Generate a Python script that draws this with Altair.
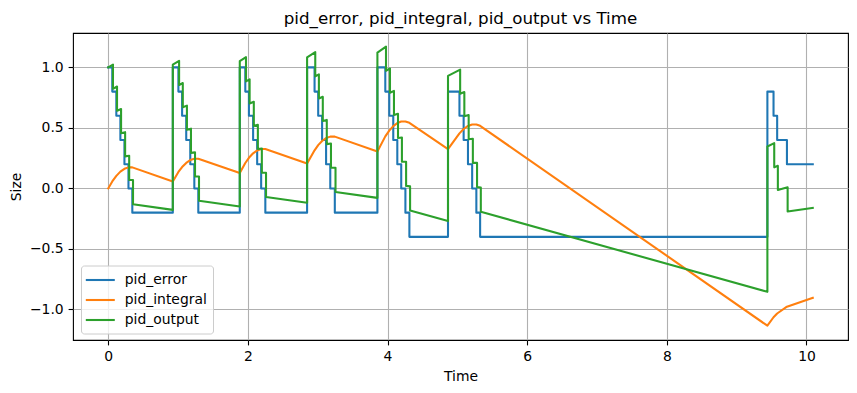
import altair as alt
import pandas as pd

series_names = ["pid_error", "pid_integral", "pid_output"]
series_colors = ["#1f77b4", "#ff7f0e", "#2ca02c"]
x_ticks = [0, 2, 4, 6, 8, 10]
y_ticks = [-1.0, -0.5, 0.0, 0.5, 1.0]

# pid_error vertices (time, value)
error_t = [0, 0.058, 0.058, 0.116, 0.116, 0.174, 0.174, 0.232, 0.232, 0.29, 0.29, 0.345, 0.345, 0.925,
           0.925, 1.005, 1.005, 1.058, 1.058, 1.117, 1.117, 1.175, 1.175, 1.233, 1.233, 1.29, 1.29, 1.884,
           1.884, 1.963, 1.963, 2.015, 2.015, 2.075, 2.075, 2.133, 2.133, 2.19, 2.19, 2.25, 2.25, 2.848,
           2.848, 2.955, 2.955, 3.007, 3.007, 3.063, 3.063, 3.12, 3.12, 3.18, 3.18, 3.245, 3.245, 3.855,
           3.855, 3.968, 3.968, 4.025, 4.025, 4.082, 4.082, 4.14, 4.14, 4.196, 4.196, 4.256, 4.256, 4.313, 4.313, 4.866,
           4.866, 5.03, 5.03, 5.09, 5.09, 5.152, 5.152, 5.212, 5.212, 5.272, 5.272, 5.326, 5.326, 9.44,
           9.44, 9.528, 9.528, 9.58, 9.58, 9.72, 9.72, 10.09]
error_v = [1.0, 1.0, 0.8, 0.8, 0.6, 0.6, 0.4, 0.4, 0.2, 0.2, 0.0, 0.0, -0.2, -0.2,
           1.0, 1.0, 0.8, 0.8, 0.6, 0.6, 0.4, 0.4, 0.2, 0.2, 0.0, 0.0, -0.2, -0.2,
           1.0, 1.0, 0.8, 0.8, 0.6, 0.6, 0.4, 0.4, 0.2, 0.2, 0.0, 0.0, -0.2, -0.2,
           1.0, 1.0, 0.8, 0.8, 0.6, 0.6, 0.4, 0.4, 0.2, 0.2, 0.0, 0.0, -0.2, -0.2,
           1.0, 1.0, 0.8, 0.8, 0.6, 0.6, 0.4, 0.4, 0.2, 0.2, 0.0, 0.0, -0.2, -0.2, -0.4, -0.4,
           0.8, 0.8, 0.6, 0.6, 0.4, 0.4, 0.2, 0.2, 0.0, 0.0, -0.2, -0.2, -0.4, -0.4,
           0.8, 0.8, 0.6, 0.6, 0.4, 0.4, 0.2, 0.2]

# pid_integral vertices
integral_t = [0, 0.058, 0.116, 0.174, 0.232, 0.29, 0.345, 0.925,
              1.005, 1.058, 1.117, 1.175, 1.233, 1.29, 1.884,
              1.963, 2.015, 2.075, 2.133, 2.19, 2.25, 2.848,
              2.955, 3.007, 3.063, 3.12, 3.18, 3.245, 3.855,
              3.968, 4.025, 4.082, 4.14, 4.196, 4.256, 4.313, 4.866,
              5.03, 5.09, 5.152, 5.212, 5.272, 5.326, 9.44,
              9.528, 9.58, 9.72, 10.09]
integral_v = [0.0, 0.058, 0.104, 0.139, 0.162, 0.174, 0.174, 0.058,
              0.136, 0.177, 0.211, 0.234, 0.245, 0.245, 0.127,
              0.21, 0.253, 0.29, 0.314, 0.326, 0.326, 0.206,
              0.315, 0.358, 0.392, 0.416, 0.428, 0.428, 0.306,
              0.43, 0.478, 0.515, 0.54, 0.553, 0.553, 0.542, 0.325,
              0.455, 0.491, 0.516, 0.528, 0.528, 0.517, -1.134,
              -1.064, -1.033, -0.977, -0.903]

# pid_output vertices
output_t = [0, 0.068, 0.068, 0.126, 0.126, 0.184, 0.184, 0.242, 0.242, 0.30, 0.30, 0.355, 0.355, 0.925, 0.925,
            1.015, 1.015, 1.068, 1.068, 1.127, 1.127, 1.185, 1.185, 1.243, 1.243, 1.30, 1.30, 1.884, 1.884,
            1.973, 1.973, 2.025, 2.025, 2.085, 2.085, 2.143, 2.143, 2.20, 2.20, 2.26, 2.26, 2.848, 2.848,
            2.965, 2.965, 3.017, 3.017, 3.073, 3.073, 3.13, 3.13, 3.19, 3.19, 3.255, 3.255, 3.855, 3.855,
            3.978, 3.978, 4.035, 4.035, 4.092, 4.092, 4.15, 4.15, 4.206, 4.206, 4.266, 4.266, 4.323, 4.323, 4.866, 4.866,
            5.04, 5.04, 5.10, 5.10, 5.162, 5.162, 5.222, 5.222, 5.282, 5.282, 5.336, 5.336, 9.44, 9.44,
            9.538, 9.538, 9.59, 9.59, 9.73, 9.73, 10.09]
output_v = [1.0, 1.023, 0.823, 0.842, 0.642, 0.656, 0.456, 0.465, 0.265, 0.270, 0.070, 0.070, -0.130, -0.177, 1.023,
            1.054, 0.854, 0.871, 0.671, 0.684, 0.484, 0.494, 0.294, 0.298, 0.098, 0.098, -0.102, -0.149, 1.051,
            1.084, 0.884, 0.901, 0.701, 0.716, 0.516, 0.526, 0.326, 0.330, 0.130, 0.130, -0.070, -0.118, 1.082,
            1.126, 0.926, 0.943, 0.743, 0.757, 0.557, 0.566, 0.366, 0.371, 0.171, 0.171, -0.029, -0.078, 1.122,
            1.172, 0.972, 0.991, 0.791, 0.806, 0.606, 0.616, 0.416, 0.421, 0.221, 0.221, 0.021, 0.017, -0.183, -0.270, 0.930,
            0.982, 0.782, 0.796, 0.596, 0.606, 0.406, 0.411, 0.211, 0.211, 0.011, 0.007, -0.193, -0.854, 0.346,
            0.374, 0.174, 0.187, -0.013, 0.009, -0.191, -0.161]

rows = []
for name, ts, vs in [(series_names[0], error_t, error_v),
                     (series_names[1], integral_t, integral_v),
                     (series_names[2], output_t, output_v)]:
    for i, (t, v) in enumerate(zip(ts, vs)):
        rows.append({"t": t, "v": v, "series": name, "idx": i})
df = pd.DataFrame(rows)

FONT = "DejaVu Sans"

chart = alt.Chart(df).mark_line(strokeWidth=2.08, strokeJoin="round", strokeCap="square", clip=True).encode(
    x=alt.X("t:Q",
            scale=alt.Scale(domain=[-0.5045, 10.5945], nice=False, zero=False),
            axis=alt.Axis(title="Time", values=x_ticks, format="d")),
    y=alt.Y("v:Q",
            scale=alt.Scale(domain=[-1.252, 1.284], nice=False, zero=False),
            axis=alt.Axis(title="Size", values=y_ticks,
                          labelExpr="replace(format(datum.value, '.1f'), '-', '\u2212')")),
    color=alt.Color("series:N",
                    scale=alt.Scale(domain=series_names, range=series_colors),
                    legend=alt.Legend(title=None, orient="none", legendX=8, legendY=232.5,
                                      symbolType="M-2.07,0H2.07", symbolSize=196,
                                      symbolStrokeWidth=2.08, symbolOffset=4.8,
                                      labelOffset=16, rowPadding=4, padding=6,
                                      fillColor="rgba(255,255,255,0.8)", strokeColor="#cccccc",
                                      cornerRadius=3, labelFont=FONT, labelFontSize=13.9,
                                      labelColor="black")),
    order=alt.Order("idx:Q"),
).properties(
    width=775, height=307,
    title=alt.Title("pid_error, pid_integral, pid_output vs Time", fontSize=16.7, fontWeight="normal",
                    font=FONT, color="black", anchor="middle", offset=-12, baseline="bottom"),
    autosize=alt.AutoSizeParams(type="none"),
    padding={"left": 73, "top": 33, "right": 9, "bottom": 53},
    background="white",
).configure_view(
    stroke="black", strokeWidth=1.1
).configure_axis(
    labelFont=FONT, labelFontSize=13.9, labelColor="black",
    titleFont=FONT, titleFontSize=13.9, titleFontWeight="normal", titleColor="black",
    tickColor="black", tickSize=4.9, tickWidth=1.1, labelPadding=4.9, titlePadding=5.6,
    gridColor="#b0b0b0", gridWidth=1.1, gridOpacity=1, domain=False,
)

chart.save("out.html", embed_options={"renderer": "svg", "actions": False})
